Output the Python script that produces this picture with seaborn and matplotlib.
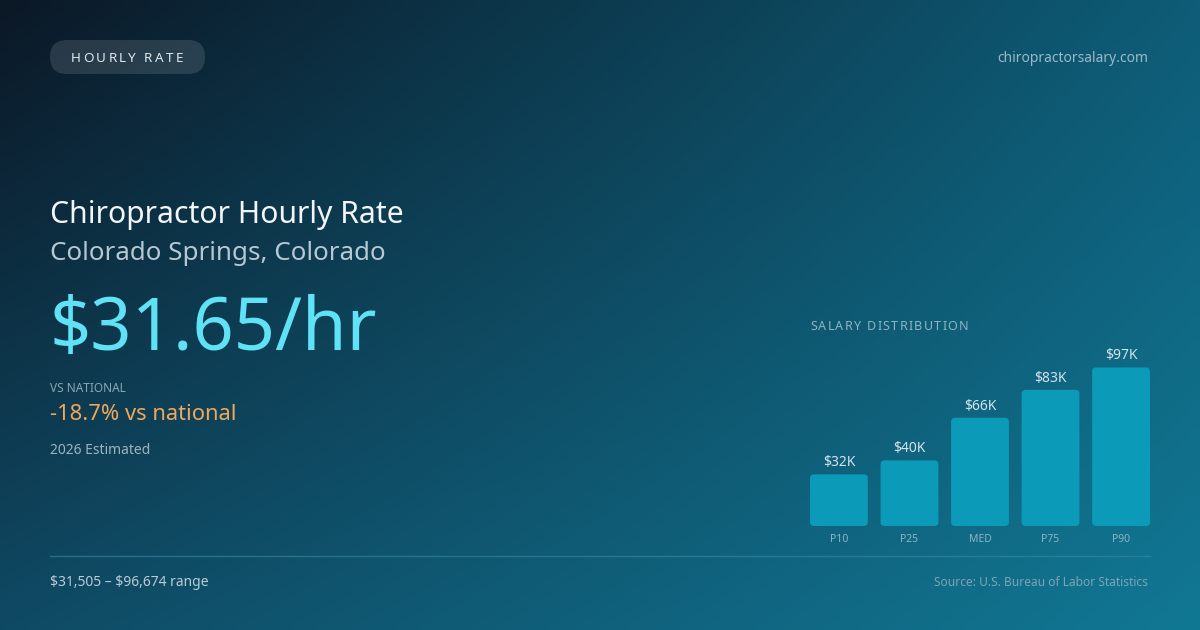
import numpy as np
import pandas as pd
import matplotlib
matplotlib.use("Agg")
import matplotlib.pyplot as plt
from matplotlib.patches import FancyBboxPatch
from matplotlib.colors import to_rgb
import seaborn as sns

# data
percentiles = ["P10", "P25", "MED", "P75", "P90"]
salaries = [31505, 40000, 66000, 83000, 96674]
bar_labels = ["$32K", "$40K", "$66K", "$83K", "$97K"]

hourly_rate = "$31.65/hr"
vs_national = "-18.7% vs national"
range_text = "$31,505 \u2013 $96,674 range"

sns.set_theme(style="white")
plt.rcParams["font.family"] = ["Noto Sans", "DejaVu Sans"]

W, H = 1200, 630
fig = plt.figure(figsize=(12, 6.3), dpi=100)

# background in pixel coords
bg = fig.add_axes([0, 0, 1, 1])
bg.set_xlim(0, W)
bg.set_ylim(H, 0)
bg.axis("off")

tl, tr = np.array(to_rgb("#0b1826")), np.array(to_rgb("#0e5c77"))
bl, br = np.array(to_rgb("#0f4a64")), np.array(to_rgb("#117894"))
xx = np.linspace(0, 1, 240)[None, :, None]
yy = np.linspace(0, 1, 126)[:, None, None]
grad = (tl * (1 - xx) * (1 - yy) + tr * xx * (1 - yy)
        + bl * (1 - xx) * yy + br * xx * yy)
bg.imshow(grad, extent=[0, W, H, 0], aspect="auto", interpolation="bicubic", zorder=0)

renderer = fig.canvas.get_renderer()


def spaced_text(x, y, s, track, center=False, **kw):
    # matplotlib has no letter-spacing, so lay the glyphs out one by one
    parts = []
    cur = 0.0
    for ch in s:
        t = bg.text(cur, y, ch, ha="left", va="center", parse_math=False, **kw)
        w = t.get_window_extent(renderer).width
        if ch == " ":
            w = kw.get("fontsize", 10) * 0.26 / 0.72
        parts.append((t, cur))
        cur += w + track
    total = cur - track
    x0 = x - total / 2 if center else x
    for t, off in parts:
        t.set_x(x0 + off)


# pill
pill = FancyBboxPatch((50, 40), 155, 34, boxstyle="round,pad=0,rounding_size=17",
                      fc="#ffffff", alpha=0.12, ec="none", zorder=1)
bg.add_patch(pill)
spaced_text(127, 58, "HOURLY RATE", 2.3, center=True,
            fontsize=9.7, color="#dfe7ec", zorder=2)
bg.text(1148, 59, "chiropractorsalary.com", ha="right", va="center",
        fontsize=10, color="#9db8c6")

bg.text(50, 215, "Chiropractor Hourly Rate", ha="left", va="center",
        fontsize=21.7, color="#f2f6f8")
bg.text(50, 253, "Colorado Springs, Colorado", ha="left", va="center",
        fontsize=18.7, color="#b5c8d3")
bg.text(49, 331, hourly_rate, ha="left", va="center",
        fontsize=52, color="#5fe1f6", parse_math=False)
bg.text(50, 388, "VS NATIONAL", ha="left", va="center",
        fontsize=8.5, color="#8aa6b6")
bg.text(50, 415, vs_national, ha="left", va="center",
        fontsize=15.8, color="#f0a75c")
bg.text(50, 451, "2026 Estimated", ha="left", va="center",
        fontsize=10, color="#9ab3c1")

bg.plot([50, 1150], [556, 556], color="#3a8aa3", lw=1, alpha=0.6)
bg.text(50, 583, range_text, ha="left", va="center",
        fontsize=10, color="#b8cbd6", parse_math=False)
bg.text(1148, 583, "Source: U.S. Bureau of Labor Statistics", ha="right", va="center",
        fontsize=8.6, color="#7fa3b5")

spaced_text(810, 327, "SALARY DISTRIBUTION", 1.3,
            fontsize=9, color="#8fb4c5")

# bar chart
df = pd.DataFrame({"pct": percentiles, "salary": salaries})
ax = fig.add_axes([810 / W, (H - 526) / H, 340 / W, (526 - 340) / H])
ax.patch.set_alpha(0)
sns.barplot(data=df, x="pct", y="salary", color="#0b9ab8", saturation=1,
            width=0.82, ax=ax)
ax.set_xlim(-0.41, 4.41)
ax.set_ylim(0, 113400)

# swap the plain rectangles for rounded ones
px_x = 340 / 4.82
px_y = 186 / 113400
for p in list(ax.patches):
    x, y, w, h = p.get_x(), p.get_y(), p.get_width(), p.get_height()
    r = 4 / px_x
    rb = FancyBboxPatch((x, y), w, h, boxstyle=f"round,pad=0,rounding_size={r}",
                        mutation_aspect=(4 / px_y) / r,
                        fc=p.get_facecolor(), ec="none")
    p.remove()
    ax.add_patch(rb)

for i, (v, lab) in enumerate(zip(salaries, bar_labels)):
    ax.annotate(lab, (i, v), xytext=(0, 3), textcoords="offset points",
                ha="center", va="bottom", fontsize=10, color="#d3e3ea",
                parse_math=False)

ax.set_xlabel("")
ax.set_ylabel("")
ax.set_yticks([])
ax.tick_params(axis="x", length=0, pad=6, labelsize=7.5, labelcolor="#8db4c6")
sns.despine(ax=ax, left=True, bottom=True)

fig.savefig("out.png", dpi=100)
